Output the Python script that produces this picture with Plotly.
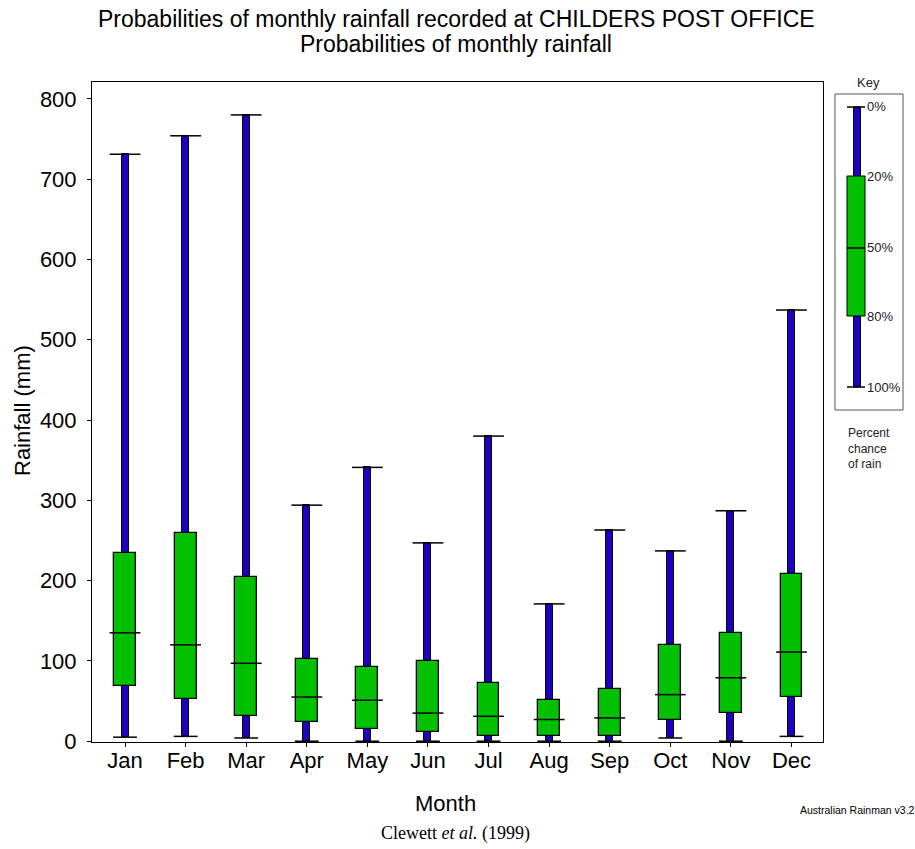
import plotly.graph_objects as go

# ---- data (mm) ----
months = ["Jan", "Feb", "Mar", "Apr", "May", "Jun", "Jul", "Aug", "Sep", "Oct", "Nov", "Dec"]
p0 = [731, 754, 780, 294, 341, 247, 380, 171, 263, 237, 287, 537]    # 0% (max)
p20 = [234, 259, 204, 103, 92, 100, 72, 51, 65, 120, 135, 208]       # 20%
p50 = [135, 120, 97, 55, 51, 35, 31, 27, 29, 58, 79, 111]            # 50% (median)
p80 = [69, 53, 31, 24, 15, 11, 7, 6, 7, 26, 35, 55]                  # 80%
p100 = [5, 6, 4, 0, 0, 0, 0, 0, 0, 4, 0, 6]                          # 100% (min)
y_ticks = [0, 100, 200, 300, 400, 500, 600, 700, 800]
key_labels = ["0%", "20%", "50%", "80%", "100%"]
key_note = "Percent<br>chance<br>of rain"

BLUE = "#1E00BE"
GREEN = "#00C000"
FONT = "Liberation Sans, Arial, sans-serif"

W, H = 915, 849
L, R, T, B = 92, 823, 82, 742   # plot area in pixels


def px(x):
    return (x - L) / (R - L)


def py(y):
    return (B - y) / (B - T)


fig = go.Figure()

# whiskers (min to max)
fig.add_trace(go.Bar(
    x=months, y=[a - b for a, b in zip(p0, p100)], base=p100,
    width=0.115, marker=dict(color=BLUE, line=dict(color="black", width=1)),
    hoverinfo="skip", showlegend=False))
# boxes (80% to 20%)
fig.add_trace(go.Bar(
    x=months, y=[a - b for a, b in zip(p20, p80)], base=p80,
    width=0.36, marker=dict(color=GREEN, line=dict(color="black", width=1.3)),
    hoverinfo="skip", showlegend=False))
# medians
fig.add_trace(go.Scatter(
    x=months, y=p50, mode="markers",
    marker=dict(symbol="line-ew", size=22, line=dict(color="black", width=1.5)),
    hoverinfo="skip", showlegend=False))
# top caps
fig.add_trace(go.Scatter(
    x=months, y=p0, mode="markers",
    marker=dict(symbol="line-ew", size=22, line=dict(color="black", width=1.5)),
    hoverinfo="skip", showlegend=False))
# bottom caps
fig.add_trace(go.Scatter(
    x=months, y=p100, mode="markers",
    marker=dict(symbol="line-ew", size=17, line=dict(color="black", width=1.5)),
    hoverinfo="skip", showlegend=False))

shapes = []
annotations = []

# ---- key panel ----
shapes.append(dict(type="rect", xref="paper", yref="paper",
                   x0=px(835), x1=px(903), y0=py(410), y1=py(94),
                   line=dict(color="#555555", width=1), fillcolor="white"))
key_y = [107, 176, 248, 316, 387]
shapes.append(dict(type="rect", xref="paper", yref="paper",
                   x0=px(853.5), x1=px(860.5), y0=py(key_y[4]), y1=py(key_y[0]),
                   line=dict(color="black", width=1), fillcolor=BLUE))
shapes.append(dict(type="rect", xref="paper", yref="paper",
                   x0=px(847), x1=px(865), y0=py(key_y[3]), y1=py(key_y[1]),
                   line=dict(color="black", width=1), fillcolor=GREEN))
for yy in (key_y[0], key_y[2], key_y[4]):
    shapes.append(dict(type="line", xref="paper", yref="paper",
                       x0=px(847), x1=px(865), y0=py(yy), y1=py(yy),
                       line=dict(color="black", width=1.5)))
for lab, yy in zip(key_labels, key_y):
    annotations.append(dict(text=lab, xref="paper", yref="paper",
                            x=px(865), y=py(yy), xanchor="left", yanchor="middle",
                            showarrow=False, font=dict(family=FONT, size=13, color="#222222")))
annotations.append(dict(text="Key", xref="paper", yref="paper", x=px(869), y=py(83),
                        xanchor="center", yanchor="middle", showarrow=False,
                        font=dict(family=FONT, size=13, color="#222222")))
annotations.append(dict(text=key_note, xref="paper", yref="paper",
                        x=px(846), y=py(424), xanchor="left", yanchor="top", align="left",
                        showarrow=False, font=dict(family=FONT, size=12, color="#222222")))

# ---- titles / texts ----
annotations.append(dict(text="Probabilities of monthly rainfall recorded at CHILDERS POST OFFICE",
                        xref="paper", yref="paper", x=px(456), y=py(19),
                        xanchor="center", yanchor="middle", showarrow=False,
                        font=dict(family=FONT, size=23, color="black")))
annotations.append(dict(text="Probabilities of monthly rainfall",
                        xref="paper", yref="paper", x=px(456), y=py(44),
                        xanchor="center", yanchor="middle", showarrow=False,
                        font=dict(family=FONT, size=23, color="black")))
annotations.append(dict(text="Rainfall (mm)", xref="paper", yref="paper",
                        x=px(22), y=py(411), xanchor="center", yanchor="middle",
                        textangle=-90, showarrow=False,
                        font=dict(family=FONT, size=22, color="black")))
annotations.append(dict(text="Month", xref="paper", yref="paper",
                        x=px(445), y=py(803), xanchor="center", yanchor="middle",
                        showarrow=False, font=dict(family=FONT, size=22, color="black")))
annotations.append(dict(text="Australian Rainman v3.2", xref="paper", yref="paper",
                        x=px(858), y=py(810), xanchor="center", yanchor="middle",
                        showarrow=False, font=dict(family=FONT, size=10.5, color="black")))
annotations.append(dict(text="Clewett <i>et al.</i> (1999)", xref="paper", yref="paper",
                        x=px(455), y=py(833), xanchor="center", yanchor="middle",
                        showarrow=False,
                        font=dict(family="Liberation Serif, Times New Roman, serif",
                                  size=18, color="black")))

fig.update_layout(
    width=W, height=H,
    margin=dict(l=L, r=W - R, t=T, b=H - B, pad=0),
    paper_bgcolor="white", plot_bgcolor="white",
    barmode="overlay", bargap=0,
    showlegend=False,
    shapes=shapes, annotations=annotations,
    font=dict(family=FONT, size=22, color="black"),
    xaxis=dict(type="category", range=[-0.545, 11.52],
               showline=True, linecolor="black", linewidth=1, mirror=True,
               ticks="outside", ticklen=4, tickcolor="black",
               ticklabelstandoff=-5,
               showgrid=False, zeroline=False,
               tickfont=dict(family=FONT, size=22, color="black")),
    yaxis=dict(range=[-1, 821], tickvals=y_ticks,
               showline=True, linecolor="black", linewidth=1, mirror=True,
               ticks="outside", ticklen=4, tickcolor="black",
               ticklabelstandoff=6,
               showgrid=False, zeroline=False,
               tickfont=dict(family=FONT, size=22, color="black")),
)

fig.write_html("out.html", config={"displayModeBar": False},
               post_script="document.body.style.margin='0';")
